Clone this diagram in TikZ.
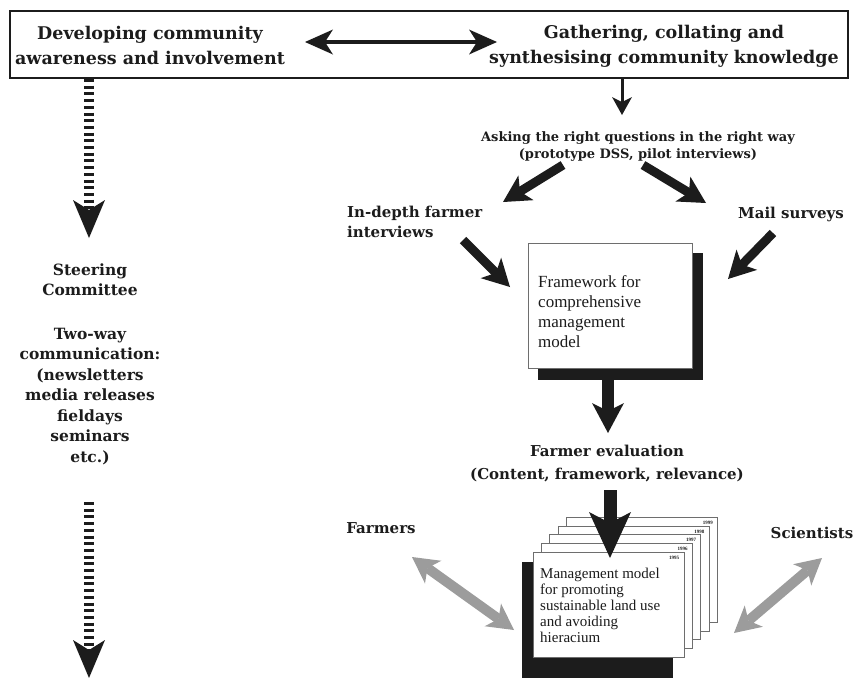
\documentclass[tikz,border=0pt]{standalone}
\usepackage{fontspec}
\setmainfont{Liberation Serif}
\newfontfamily\labfont{DejaVu Serif}
\usetikzlibrary{arrows.meta}
\definecolor{ink}{HTML}{1C1C1C}
\definecolor{halftone}{HTML}{9C9C9C}
\definecolor{rule}{HTML}{6E6E6E}
\begin{document}
% multi-line nodes below are placed by the baseline of their last line
\begin{tikzpicture}[x=1pt,y=-1pt,
  headtext/.style={font=\labfont\bfseries\fontsize{17.5}{24.5}\selectfont, align=center, inner sep=0pt, anchor=base, text=ink},
  sidetext/.style={font=\labfont\bfseries\fontsize{15.5}{20.5}\selectfont, align=center, inner sep=0pt, anchor=base, text=ink},
  labtext/.style={font=\labfont\bfseries\fontsize{15}{20}\selectfont, align=left, inner sep=0pt, anchor=base, text=ink},
  evalfont/.style={font=\labfont\bfseries\fontsize{15}{23}\selectfont, align=center, inner sep=0pt, anchor=base, text=ink},
  asktext/.style={font=\labfont\bfseries\fontsize{13}{17}\selectfont, align=center, inner sep=0pt, anchor=base, text=ink},
  bodytext/.style={font=\fontsize{17}{20}\selectfont, align=left, inner sep=0pt, anchor=base west, text=ink},
  pagetext/.style={font=\fontsize{15}{15.8}\selectfont, align=left, inner sep=0pt, anchor=base west, text=ink},
  yeartext/.style={font=\bfseries\fontsize{5}{5}\selectfont, inner sep=0pt, anchor=base east, text=ink},
  page/.style={draw=rule, line width=0.8pt, fill=white, minimum width=151pt, minimum height=105pt, inner sep=0pt},
  slim/.style={draw=ink, line width=3pt, -{Stealth[length=18pt 0, width=20pt 0, inset=5pt 0, line width=0pt]}},
  twin/.style={draw=ink, line width=4pt, {Stealth[length=28pt 0, width=25pt 0, inset=8pt 0, line width=0pt]}-{Stealth[length=28pt 0, width=25pt 0, inset=8pt 0, line width=0pt]}},
  heavy/.style={draw=ink, line width=9pt, -{Stealth[length=27pt 0, width=29pt 0, inset=7pt 0, line width=0pt]}},
  trunk/.style={draw=ink, line width=12pt, -{Stealth[length=30pt 0, width=32pt 0, inset=8pt 0, line width=0pt]}},
  bigtrunk/.style={draw=ink, line width=13pt, -{Stealth[length=46pt 0, width=42pt 0, inset=11pt 0, line width=0pt]}},
  ladder/.style={draw=ink, line width=10pt, dash pattern=on 3pt off 3.7pt, -{Stealth[length=38pt 0, width=32pt 0, inset=10pt 0, line width=0pt]}},
  grey2way/.style={draw=halftone, line width=10pt, {Stealth[length=26pt 0, width=28pt 0, inset=7pt 0, line width=0pt]}-{Stealth[length=26pt 0, width=28pt 0, inset=7pt 0, line width=0pt]}}
]
\useasboundingbox (0,0) rectangle (855,678);

% ---- top banner -------------------------------------------------------
\node[draw=ink, line width=2pt, minimum width=838pt, minimum height=67pt, inner sep=0pt] (banner) at (429,44.5) {};
\node[headtext] (aware) at (150,64) {Developing community\\awareness and involvement};
\node[headtext] (gather) at (664,63) {Gathering, collating and\\synthesising community knowledge};
\coordinate (twinL) at (305,42);
\coordinate (twinR) at (497,42);
\draw[twin] (twinL) -- (twinR);

% ---- left column: communication channel --------------------------------
\coordinate (lad1s) at (89,79);
\coordinate (lad1e) at (89,238);
\draw[ladder] (lad1s) -- (lad1e);
\node[sidetext] (steer) at (90,295.5) {Steering\\Committee};
\node[sidetext] (twoway) at (90,462) {Two-way\\communication:\\(newsletters\\media releases\\fieldays\\seminars\\etc.)};
\coordinate (lad2s) at (89,502);
\coordinate (lad2e) at (89,678);
\draw[ladder] (lad2s) -- (lad2e);

% ---- right column: knowledge gathering ---------------------------------
\coordinate (dn1s) at (622,78);
\coordinate (dn1e) at (622,115);
\draw[slim] (dn1s) -- (dn1e);
\node[asktext] (ask) at (638,158) {Asking the right questions in the right way\\(prototype DSS, pilot interviews)};

\coordinate (askL) at (563,165);
\coordinate (askLe) at (503,202);
\draw[heavy] (askL) -- (askLe);
\coordinate (askR) at (643,165);
\coordinate (askRe) at (706,203);
\draw[heavy] (askR) -- (askRe);

\node[labtext, anchor=base west] (indepth) at (347,237) {In-depth farmer\\interviews};
\node[labtext, anchor=base west] (mail) at (738,218) {Mail surveys};

% framework box with drop shadow
\fill[ink] (538,253) rectangle (703,380);
\node[draw=rule, line width=0.8pt, fill=white, minimum width=164pt, minimum height=125pt, inner sep=0pt] (frame) at (610,305.5) {};
\node[bodytext] (frametext) at (538,347) {Framework for\\comprehensive\\management\\model};

\coordinate (inA) at (463,240);
\coordinate (inAe) at (510,287);
\draw[heavy] (inA) -- (inAe);
\coordinate (mlA) at (773,233);
\coordinate (mlAe) at (728,279);
\draw[heavy] (mlA) -- (mlAe);

\coordinate (frA) at (608,380);
\coordinate (frAe) at (608,433);
\draw[trunk] (frA) -- (frAe);

\node[evalfont] (evaltext) at (607,479) {Farmer evaluation\\(Content, framework, relevance)};

% ---- stack of yearly models --------------------------------------------
\fill[ink] (522,562) rectangle (673,680);
\foreach \i in {4,3,2,1,0} {
  \pgfmathtruncatemacro{\yr}{1995+\i}
  \node[page] (p\i) at (608.5+8.4*\i, 604.5-8.7*\i) {};
  \path (p\i.north east) ++(-5,7.5) node[yeartext] (y\i) {\yr};
}
\node[pagetext] (modeltext) at (540,642) {Management model\\for promoting\\sustainable land use\\and avoiding\\hieracium};

\coordinate (evA) at (610,490);
\coordinate (evAe) at (610,558);
\draw[bigtrunk] (evA) -- (evAe);

\node[labtext] (farmers) at (381,533) {Farmers};
\node[labtext] (scient) at (812,538) {Scientists};
\coordinate (fa1) at (412,557);
\coordinate (fa2) at (514,630);
\draw[grey2way] (fa1) -- (fa2);
\coordinate (sc1) at (822,558);
\coordinate (sc2) at (734,633);
\draw[grey2way] (sc1) -- (sc2);
\end{tikzpicture}
\end{document}
